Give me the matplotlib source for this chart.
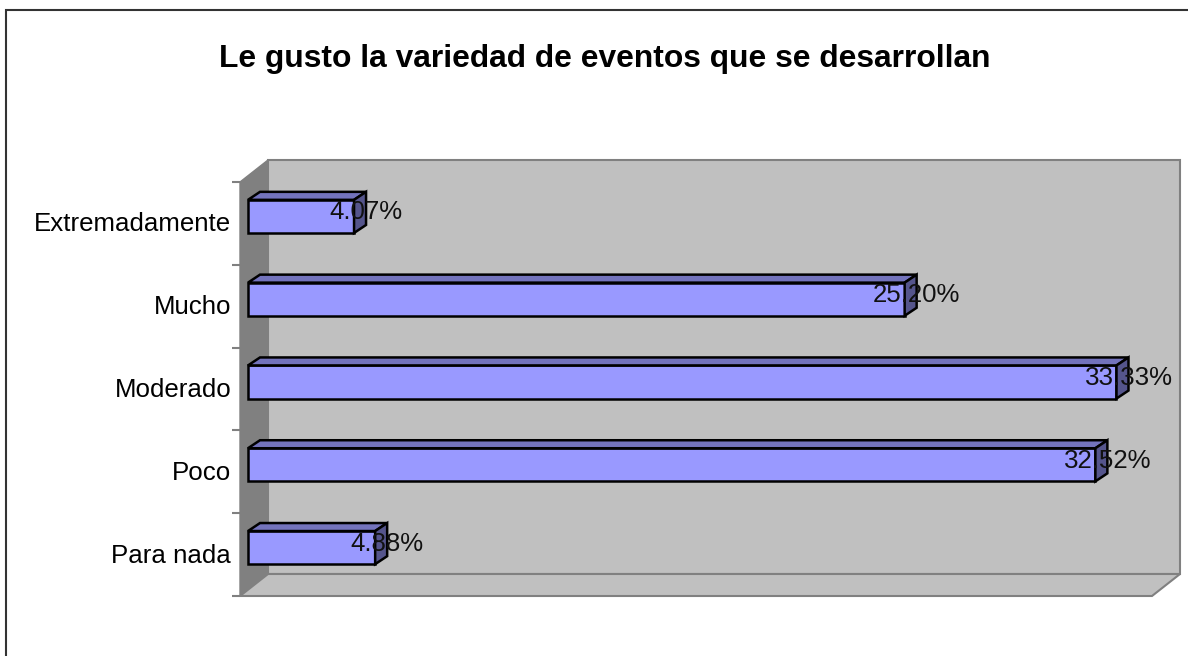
import matplotlib
matplotlib.use("Agg")
import matplotlib.pyplot as plt
from matplotlib.transforms import Affine2D

# data
categories = ["Para nada", "Poco", "Moderado", "Mucho", "Extremadamente"]
values = [4.88, 32.52, 33.33, 25.20, 4.07]
labels = ["4.88%", "32.52%", "33.33%", "25.20%", "4.07%"]

plt.rcParams["font.family"] = "Liberation Sans"

W, H = 1188, 656
fig = plt.figure(figsize=(W / 100, H / 100), dpi=100)

# outer frame of the chart area
fig.add_artist(plt.Rectangle((5.5 / W, -0.05), 1.2, 1 - 10 / H + 0.05, transform=fig.transFigure,
                             fill=False, edgecolor="#333333", linewidth=1.5))

# axes = front plane of the fake 3d box
ax = fig.add_axes([240 / W, 1 - 596 / H, 912 / W, 414 / H])
ax.set_xlim(0, 35)
ax.set_ylim(-0.5, 4.5)
ax.patch.set_visible(False)
for s in ax.spines.values():
    s.set_visible(False)

# depth of the box in pixels
dx, dy = 28, 22
back = ax.transData + Affine2D().translate(dx, dy)
wall_col = "#C0C0C0"
grey = "#808080"

x0, x1 = ax.get_xlim()
y0, y1 = ax.get_ylim()
ax.fill([x0, x1, x1, x0], [y0, y0, y1, y1], transform=back, facecolor=wall_col, edgecolor=grey,
        lw=1.5, zorder=1, clip_on=False)


# side wall and floor
def px_poly(pts, **kw):
    fig.add_artist(plt.Polygon(pts, closed=True, transform=None, **kw))


bl = ax.transData.transform((x0, y0))
tl = ax.transData.transform((x0, y1))
br = ax.transData.transform((x1, y0))
px_poly([bl, tl, tl + (dx, dy), bl + (dx, dy)], facecolor=grey, edgecolor=grey, lw=1, zorder=1.5)
px_poly([bl, br, br + (dx, dy), bl + (dx, dy)], facecolor=wall_col, edgecolor=grey, lw=1.5, zorder=1.5)

# bars, sitting in the middle of the depth
bar_tr = ax.transData + Affine2D().translate(8, 7)
h = 0.4
bdx, bdy = 12, 8
for i, v in enumerate(values):
    pf = bar_tr.transform([(0, i - h / 2), (v, i - h / 2), (v, i + h / 2), (0, i + h / 2)])
    top = [pf[3], pf[2], pf[2] + (bdx, bdy), pf[3] + (bdx, bdy)]
    side = [pf[1], pf[1] + (bdx, bdy), pf[2] + (bdx, bdy), pf[2]]
    px_poly(pf, facecolor="#9999FF", edgecolor="black", lw=1.8, zorder=3, joinstyle="miter")
    px_poly(top, facecolor="#7373BC", edgecolor="black", lw=1.8, zorder=3, joinstyle="miter")
    px_poly(side, facecolor="#55558C", edgecolor="black", lw=1.8, zorder=3, joinstyle="miter")

# value labels
label_tr = ax.transData + Affine2D().translate(8 + 12, 11)
for i, (v, lab) in enumerate(zip(values, labels)):
    fig.text(v, i, lab, fontsize=18.6, color="#111111", ha="center", va="center", zorder=5,
             transform=label_tr)

# category axis
ax.set_yticks([i - 0.5 for i in range(6)])
ax.set_yticklabels([])
ax.tick_params(axis="y", length=6, width=1.5, color=grey)
ax.set_xticks([])
cat_tr = ax.transData + Affine2D().translate(0, -1)
for i, c in enumerate(categories):
    ax.text(-0.34, i, c, fontsize=18.6, ha="right", va="center", transform=cat_tr)

fig.text(604.5 / W, 1 - 59 / H, "Le gusto la variedad de eventos que se desarrollan",
         fontsize=22.9, fontweight="bold", ha="center", va="center")

fig.savefig("out.png", dpi=100, facecolor="white")
